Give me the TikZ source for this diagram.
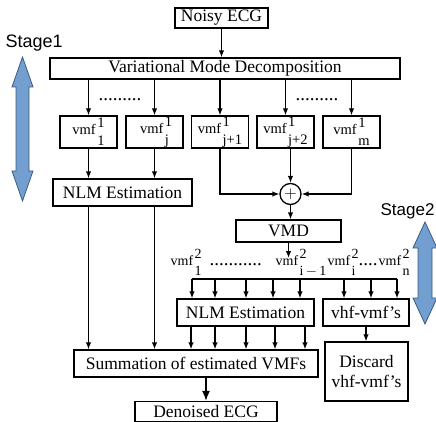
\documentclass[tikz,border=0pt]{standalone}
\usepackage{fontspec}
\setmainfont{Liberation Serif}
\newfontfamily\stagefont{Liberation Sans}
\usetikzlibrary{arrows.meta,positioning}
\definecolor{stagefill}{RGB}{114,159,207}
\definecolor{stageline}{RGB}{60,90,130}
\newcommand{\vmflab}[2]{vmf\hspace{1.5pt}\rlap{\raisebox{0.5em}{#1}}\raisebox{-0.75em}{#2}}
\tikzset{
  blk/.style={draw, line width=1.3pt, inner sep=0pt, font=\fontsize{17.5}{20}\selectfont},
  vbox/.style={draw, line width=1.3pt, minimum width=57, minimum height=32, inner sep=0pt, font=\fontsize{14.5}{16}\selectfont},
  lab/.style={anchor=base west, inner sep=0pt, font=\fontsize{14}{16}\selectfont},
  dots/.style={anchor=base west, inner sep=0pt, font=\fontsize{19}{20}\selectfont},
  stagearrow/.style={fill=stagefill, draw=stageline, line width=0.8pt}
}

\begin{document}
\begin{tikzpicture}[x=1pt, y=-1pt, line width=1.3pt, >={Latex[length=7pt,width=5.5pt]}]
        \useasboundingbox (0,0) rectangle (436,422);

        % stage arrows
        \node[anchor=base west, inner sep=0pt, font=\stagefont\fontsize{18}{20}\selectfont] (S1) at (5,48) {Stage1};
        \draw[stagearrow] (22.5,57) -- (33,87) -- (29,87) -- (29,171) -- (33,171) -- (22.5,201)
              -- (12,171) -- (16,171) -- (16,87) -- (12,87) -- cycle;
        \node[anchor=base west, inner sep=0pt, font=\stagefont\fontsize{17}{20}\selectfont] (S2) at (380,215) {Stage2};
        \draw[stagearrow] (425,222) -- (437,248) -- (432,248) -- (432,298) -- (437,298) -- (425,324)
              -- (413,298) -- (418,298) -- (418,248) -- (413,248) -- cycle;

        % first decomposition
        \node[blk, minimum width=93, minimum height=20] (Noisy) at (221.5,18) {Noisy ECG};
        \node[blk, minimum width=350, minimum height=21] (VMDa) at (225,68.5) {Variational Mode Decomposition};
        \node[vbox] (Va) at (88.5,132) {\vmflab{1}{1}};
        \node[vbox] (Vb) at (154.5,132) {\vmflab{1}{j}};
        \node[vbox] (Vc) at (220,132) {\vmflab{1}{j+1}};
        \node[vbox] (Vd) at (285.5,132) {\vmflab{1}{j+2}};
        \node[vbox] (Ve) at (351.5,132) {\vmflab{1}{m}};
        \node[dots] (DotA) at (98,101) {.........};
        \node[dots] (DotB) at (295,101) {.........};
        \node[blk, minimum width=139, minimum height=27] (NLMa) at (122.5,192.5) {NLM Estimation};
        \node[draw, circle, minimum size=21, inner sep=0pt, font=\fontsize{17}{20}\selectfont] (Plus) at (290.5,194) {$+$};
        \node[blk, minimum width=105, minimum height=22] (VMDb) at (288.5,231) {VMD};

        % second decomposition
        \coordinate (Tip) at (288.5,258);
        \node[lab] (La) at (170,265) {\vmflab{2}{1}};
        \node[dots] (DotC) at (209,265) {...........};
        \node[lab] (Lb) at (275,265) {\vmflab{2}{i\,$-$\,1}};
        \node[lab] (Lc) at (327,265) {\vmflab{2}{i}};
        \node[dots] (DotD) at (358,265) {....};
        \node[lab] (Ld) at (378,265) {\vmflab{2}{n}};
        \coordinate (BusL) at (192,279);
        \coordinate (BusR) at (397,279);
        \node[blk, minimum width=137, minimum height=27] (NLMb) at (245.5,312.5) {NLM Estimation};
        \node[blk, minimum width=86, minimum height=27] (Vhf) at (366,312.5) {vhf-vmf's};
        \node[blk, minimum width=244, minimum height=27] (Sum) at (196,363.5) {Summation of estimated VMFs};
        \node[blk, minimum width=142, minimum height=20] (Den) at (206,411.5) {Denoised ECG};
        \node[blk, minimum width=83, minimum height=59, align=center] (Disc) at (366.5,371.5) {Discard\\vhf-vmf's};

        \draw[->] (Noisy.south) -- (Noisy.south |- VMDa.north);
        \foreach \v in {Va,Vb,Vc,Vd,Ve}
          \draw[->] (\v.north |- VMDa.south) -- (\v.north);
        \draw[->] (Va.south) -- (Va.south |- NLMa.north);
        \draw[->] (Vb.south) -- (Vb.south |- NLMa.north);
        \draw[->] (Vc.south) |- (Plus.west);
        \draw[->] (Plus.north |- Vd.south) -- (Plus.north);
        \draw[->] (Ve.south) |- (Plus.east);
        \draw[->] (Plus.south) -- (Plus.south |- VMDb.north);
        \draw[->] (VMDb.south -| Tip) -- (Tip);
        \draw (BusL) -- (BusR);
        \foreach \x in {192,215,246,273,300}
          \draw[->] (\x,0 |- BusL) -- (\x,0 |- NLMb.north);
        \foreach \x in {344,371,397}
          \draw[->] (\x,0 |- BusL) -- (\x,0 |- Vhf.north);
        \foreach \x in {191,215,246,275,305}
          \draw[->] (\x,0 |- NLMb.south) -- (\x,0 |- Sum.north);
        \draw[->] (Va.south |- NLMa.south) -- (Va.south |- Sum.north);
        \draw[->] (Vb.south |- NLMa.south) -- (Vb.south |- Sum.north);
        \draw[->] (Vhf.south) -- (Vhf.south |- Disc.north);
        \draw[-{Latex[length=10pt,width=8pt]}] (Den.north |- Sum.south) -- (Den.north);
      \end{tikzpicture}
\end{document}
